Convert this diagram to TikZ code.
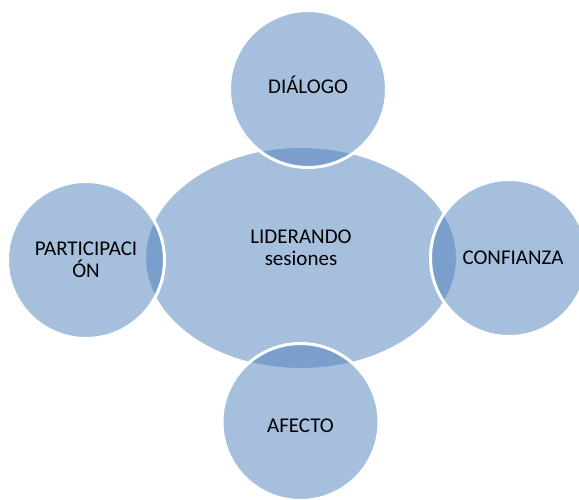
\documentclass[tikz,border=0pt]{standalone}
\usepackage{fontspec}
\setmainfont{Carlito}
\usetikzlibrary{shapes.geometric}
\definecolor{petalblue}{HTML}{4F81BD}
\begin{document}
\begin{tikzpicture}[x=1pt,y=-1pt,
  blob/.style={fill=petalblue,fill opacity=0.5,text opacity=1,
    draw=white,line width=3pt,inner sep=0pt,
    font=\fontsize{21}{22}\selectfont,align=center},
  hub/.style={blob,ellipse,minimum width=313pt,minimum height=223pt},
  petal/.style={blob,circle,minimum size=157pt}]
  \clip (0,0) rectangle (579,499);
  \fill[white] (0,0) rectangle (579,499);
  % centre
  \node[hub] (hub) at (301,258) {};
  \node[font=\fontsize{21}{22}\selectfont,align=center] (lider) at (301,248) {LIDERANDO\\sesiones};
  % petals
  \node[petal,text height=9.5pt,text depth=0pt] (dialogo) at (308,89) {DIÁLOGO};
  \node[petal] (participacion) at (86,260) {PARTICIPACI\\ÓN};
  \node[petal] (confianza) at (509,258) {\hspace*{8pt}CONFIANZA};
  \node[petal,text height=21.5pt,text depth=0pt] (afecto) at (300.5,422) {AFECTO};
\end{tikzpicture}
\end{document}
